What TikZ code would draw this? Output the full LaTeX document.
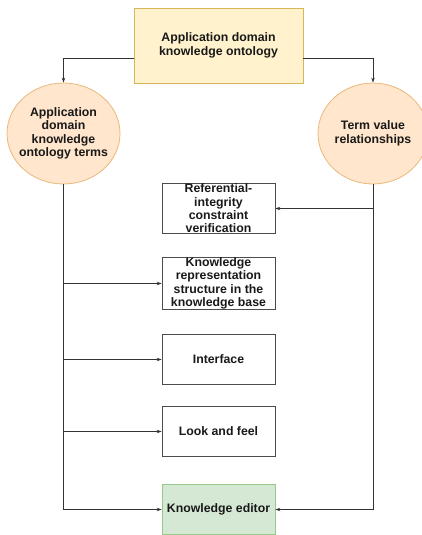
\documentclass[tikz,border=0pt]{standalone}
\usepackage{fontspec}
\setmainfont{Liberation Sans}
\usetikzlibrary{arrows.meta,shapes.geometric}
\definecolor{ybox}{HTML}{FFF2CC}
\definecolor{yline}{HTML}{D6B656}
\definecolor{obox}{HTML}{FFE6CC}
\definecolor{oline}{HTML}{E8B87A}
\definecolor{gbox}{HTML}{D5E8D4}
\definecolor{gline}{HTML}{97C98A}
\definecolor{wire}{HTML}{333333}
\tikzset{
  lbl/.style={font=\fontsize{12.3}{13.4}\selectfont\bfseries, align=center, text=black!90},
  topbox/.style={lbl, draw=yline, fill=ybox, line width=0.8pt, minimum width=169pt, minimum height=75pt, inner sep=0pt},
  termcircle/.style={ellipse, draw=oline, fill=obox, line width=0.8pt, inner sep=0pt},
  stepbox/.style={lbl, draw=black!70, fill=white, line width=0.7pt, minimum width=113pt, minimum height=50pt, inner sep=0pt},
  editorbox/.style={stepbox, draw=gline, fill=gbox},
  wireline/.style={draw=wire, line width=0.7pt, -{Stealth[length=5pt,width=3.5pt]}}
}
\begin{document}
\begin{tikzpicture}[x=1pt,y=-1pt]
  \useasboundingbox (0,0) rectangle (422,535);
  % top concept
  \node[topbox] (onto) at (218.5,45.5) {Application domain\\knowledge ontology};
  % the two branches: ellipse outlines with their labels set on top
  \node[termcircle, minimum width=113pt, minimum height=101pt] (terms) at (63.5,133.5) {};
  \node[lbl] (termstext) at (terms.center) {Application\\domain\\knowledge\\ontology terms};
  \node[termcircle, minimum width=110pt, minimum height=101pt] (rel) at (373,133.5) {};
  \node[lbl] (reltext) at (rel.center) {Term value\\relationships};
  % column of steps
  \node[stepbox] (ref) at (218.5,208.5) {Referential-\\integrity\\constraint\\verification};
  \node[stepbox] (krs) at (218.5,283.5) {Knowledge\\representation\\structure in the\\knowledge base};
  \node[stepbox] (ifc) at (218.5,359.5) {Interface};
  \node[stepbox] (laf) at (218.5,431.5) {Look and feel};
  \node[editorbox] (ked) at (218.5,509.5) {Knowledge editor};
  % helper points on the two vertical trunks
  \coordinate (lk) at (63.5,283.5);
  \coordinate (li) at (63.5,359.5);
  \coordinate (ll) at (63.5,431.5);
  \coordinate (le) at (63.5,509.5);
  \coordinate (rr) at (373,208.5);
  \coordinate (re) at (373,509.5);
  % connectors
  \draw[wireline] (onto.west |- 0,58) -| (terms.north);
  \draw[wireline] (onto.east |- 0,58) -| (rel.north);
  \draw[wire, line width=0.7pt] (terms.south) -- (le);
  \draw[wire, line width=0.7pt] (rel.south) -- (re);
  \draw[wireline] (rr) -- (ref.east);
  \draw[wireline] (lk) -- (krs.west);
  \draw[wireline] (li) -- (ifc.west);
  \draw[wireline] (ll) -- (laf.west);
  \draw[wireline] (le) -- (ked.west);
  \draw[wireline] (re) -- (ked.east);
\end{tikzpicture}
\end{document}
